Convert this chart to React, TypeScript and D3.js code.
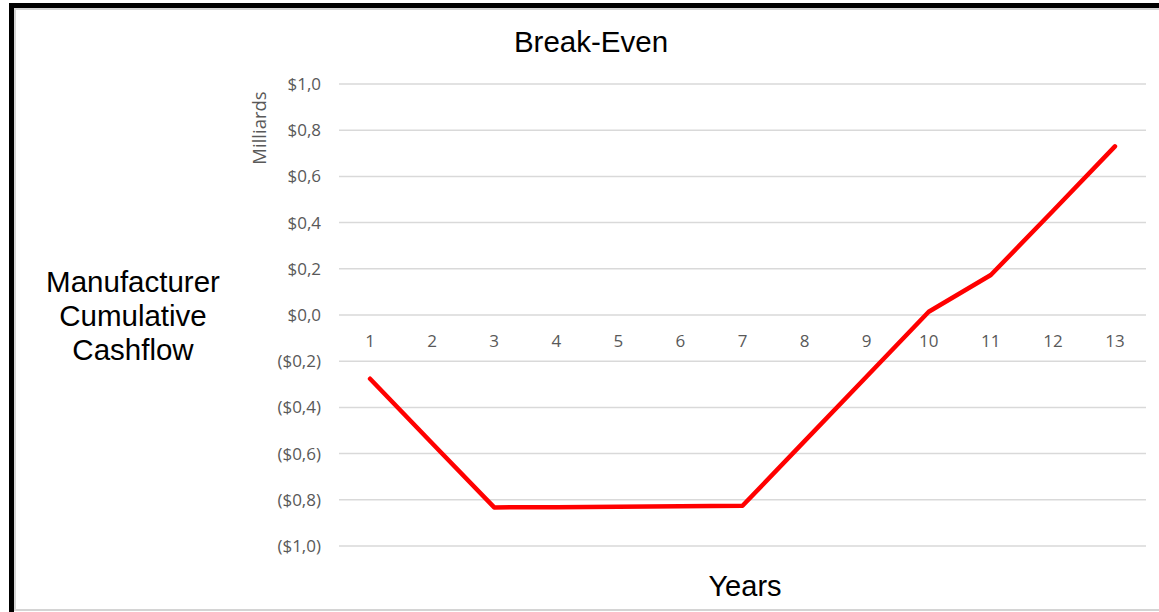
import React from "react";
import * as d3 from "d3";

// Manufacturer cumulative cashflow by year, in billions ($ Milliards)
const years: string[] = ["1", "2", "3", "4", "5", "6", "7", "8", "9", "10", "11", "12", "13"];
const cumulativeCashflow: number[] = [
  -0.276, -0.555, -0.833, -0.832, -0.83, -0.828, -0.826, -0.546, -0.266, 0.014, 0.173, 0.45, 0.73,
];
const yTicks: number[] = [1, 0.8, 0.6, 0.4, 0.2, 0, -0.2, -0.4, -0.6, -0.8, -1];

const W = 1159;
const H = 612;
const plot = { left: 339, right: 1146, top: 84, bottom: 546 };

const tickFont = "'Open Sans', 'Noto Sans', sans-serif";
const labelFont = "'Liberation Sans', Arial, sans-serif";

function formatMoney(v: number): string {
  const s = "$" + Math.abs(v).toFixed(1).replace(".", ",");
  return v < -1e-9 ? `(${s})` : s;
}

export default function App() {
  const x = d3.scalePoint<string>().domain(years).range([plot.left, plot.right]).padding(0.5);
  const y = d3.scaleLinear().domain([-1, 1]).range([plot.bottom, plot.top]);

  const line = d3
    .line<number>()
    .x((_, i) => x(years[i]) as number)
    .y((d) => y(d));

  return (
    <svg
      width={W}
      height={H}
      viewBox={`0 0 ${W} ${H}`}
      style={{ position: "absolute", left: 0, top: 0, display: "block", background: "#fff" }}
    >
      {/* frame */}
      <rect x={15} y={9} width={W} height={601} fill="#fff" stroke="#d4d4d4" strokeWidth={2} />
      <path d={`M11.5,${H + 5} V5.5 H${W + 5}`} fill="none" stroke="#000" strokeWidth={5} />

      {/* title */}
      <text x={591} y={52} textAnchor="middle" fontFamily={labelFont} fontSize={29.5} fill="#000">
        Break-Even
      </text>

      {/* gridlines */}
      {yTicks.map((t) => (
        <line
          key={`g${t}`}
          x1={plot.left}
          x2={plot.right}
          y1={y(t)}
          y2={y(t)}
          stroke="#d9d9d9"
          strokeWidth={1.5}
        />
      ))}

      {/* y tick labels */}
      {yTicks.map((t) => (
        <text
          key={`yl${t}`}
          x={321}
          y={y(t) + 6}
          textAnchor="end"
          fontFamily={tickFont}
          fontSize={17}
          fill="#595959"
        >
          {formatMoney(t)}
        </text>
      ))}

      {/* units label */}
      <text
        transform={`translate(266,128) rotate(-90)`}
        textAnchor="middle"
        fontFamily={tickFont}
        fontSize={18.5}
        fill="#595959"
      >
        Milliards
      </text>

      {/* x tick labels along the zero line */}
      {years.map((yr) => (
        <text
          key={`xl${yr}`}
          x={x(yr) as number}
          y={y(0) + 32}
          textAnchor="middle"
          fontFamily={tickFont}
          fontSize={17}
          fill="#595959"
        >
          {yr}
        </text>
      ))}

      {/* cashflow line */}
      <path
        d={line(cumulativeCashflow) ?? ""}
        fill="none"
        stroke="#ff0000"
        strokeWidth={4.5}
        strokeLinecap="round"
        strokeLinejoin="round"
      />

      {/* axis titles */}
      <text textAnchor="middle" fontFamily={labelFont} fontSize={29.5} fill="#000">
        <tspan x={133} y={292}>Manufacturer</tspan>
        <tspan x={133} y={326}>Cumulative</tspan>
        <tspan x={133} y={360}>Cashflow</tspan>
      </text>
      <text x={745} y={596} textAnchor="middle" fontFamily={labelFont} fontSize={29} fill="#000">
        Years
      </text>
    </svg>
  );
}
